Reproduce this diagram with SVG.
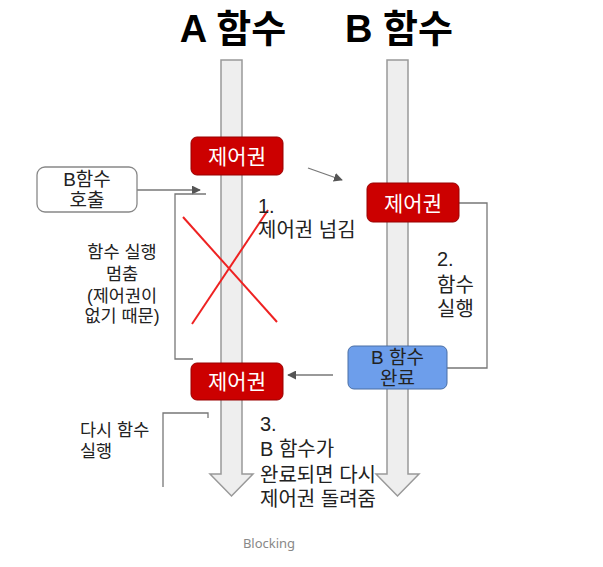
<svg xmlns="http://www.w3.org/2000/svg" width="603" height="567" viewBox="0 0 603 567">
<style>
.t{font-family:"Liberation Sans","Noto Sans CJK KR",sans-serif;fill:#222}
.title{font-size:38px;font-weight:bold;fill:#000}
.lbl{font-size:20px}
.sm{font-size:17.5px}
.red{fill:#cc0000;stroke:#990000;stroke-width:1}
.rt{font-family:"Liberation Sans","Noto Sans CJK KR",sans-serif;font-size:21px;fill:#fff}
.shaft{fill:#eeeeee;stroke:#999;stroke-width:1.5}
.ln{fill:none;stroke:#777;stroke-width:1.3}
.x{stroke:#ee2222;stroke-width:2}
</style>
<defs>
<marker id="ah" viewBox="0 0 10 10" refX="9" refY="5" markerWidth="9" markerHeight="9" markerUnits="userSpaceOnUse" orient="auto">
<path d="M0,0 L10,5 L0,10 z" fill="#555"/>
</marker>
</defs>
<rect width="603" height="567" fill="#fff"/>
<text class="t title" x="233" y="42" text-anchor="middle">A 함수</text>
<text class="t title" x="399" y="42" text-anchor="middle">B 함수</text>
<g id="colA">
<path class="shaft" d="M221,60 H242 V474 H253 L231.5,496 L210,474 H221 Z"/>
</g>
<g id="colB">
<path class="shaft" d="M387,60 H408 V474 H419 L397.5,496 L376,474 H387 Z"/>
</g>
<g id="connectors">
<line class="ln" x1="308" y1="168" x2="342" y2="180" marker-end="url(#ah)"/>
<line class="ln" x1="137" y1="190" x2="200" y2="190" marker-end="url(#ah)"/>
<path class="ln" d="M206,194 H175 V359 H193"/>
<path class="ln" d="M459,203 H487 V368 H447"/>
<line class="ln" x1="333" y1="375" x2="288" y2="375" marker-end="url(#ah)"/>
<path class="ln" d="M208,418 V413 H163 V487"/>
<line class="x" x1="183" y1="217" x2="277" y2="322"/>
<line class="x" x1="192" y1="324" x2="268" y2="210"/>
</g>
<g id="ctrlA1">
<rect class="red" x="191" y="137" width="92" height="38" rx="6"/>
<text class="rt" x="237" y="164" text-anchor="middle">제어권</text>
</g>
<g id="ctrlB">
<rect class="red" x="367" y="183" width="92" height="39" rx="6"/>
<text class="rt" x="413" y="211" text-anchor="middle">제어권</text>
</g>
<g id="ctrlA2">
<rect class="red" x="191" y="363" width="92" height="37" rx="6"/>
<text class="rt" x="237" y="389" text-anchor="middle">제어권</text>
</g>
<g id="doneB">
<rect x="348" y="346" width="99" height="43" rx="6" fill="#6d9eeb" stroke="#4a6fa5" stroke-width="1"/>
<text class="t" x="397.5" y="364" text-anchor="middle" font-size="19">B 함수</text>
<text class="t" x="397.5" y="385" text-anchor="middle" font-size="19">완료</text>
</g>
<g id="callB">
<rect x="37" y="167" width="100" height="45" rx="8" fill="#fff" stroke="#888" stroke-width="1.3"/>
<text class="t" x="87" y="186" text-anchor="middle" font-size="19">B함수</text>
<text class="t" x="87" y="207" text-anchor="middle" font-size="19">호출</text>
</g>
<g id="labels">
<text class="t sm" x="122" y="258" text-anchor="middle">함수 실행</text>
<text class="t sm" x="122" y="280" text-anchor="middle">멈춤</text>
<text class="t sm" x="122" y="302" text-anchor="middle">(제어권이</text>
<text class="t sm" x="122" y="322" text-anchor="middle">없기 때문)</text>
<text class="t lbl" x="258" y="213">1.</text>
<text class="t lbl" x="258" y="237">제어권 넘김</text>
<text class="t lbl" x="437" y="266">2.</text>
<text class="t lbl" x="437" y="292">함수</text>
<text class="t lbl" x="437" y="316">실행</text>
<text class="t sm" x="80" y="436">다시 함수</text>
<text class="t sm" x="80" y="457">실행</text>
<text class="t lbl" x="260" y="431">3.</text>
<text class="t lbl" x="260" y="456">B 함수가</text>
<text class="t lbl" x="260" y="482">완료되면 다시</text>
<text class="t lbl" x="260" y="506">제어권 돌려줌</text>
<text x="269" y="548" text-anchor="middle" font-family="'Noto Sans','Liberation Sans',sans-serif" font-size="13" fill="#888">Blocking</text>
</g>
</svg>
